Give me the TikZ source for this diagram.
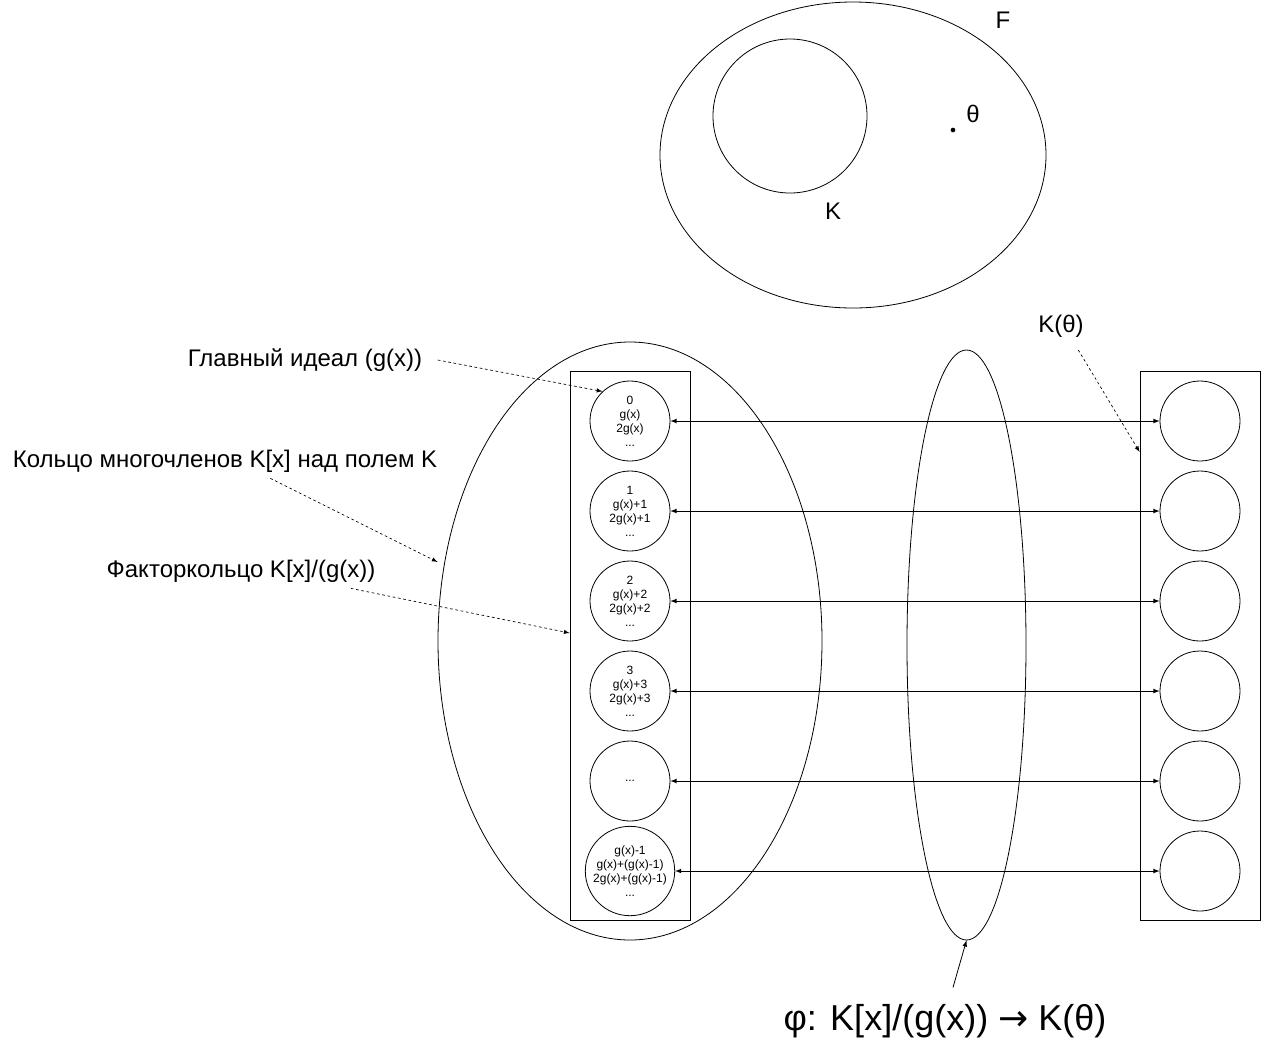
\documentclass[tikz,border=0pt]{standalone}
\usepackage{fontspec}
\setmainfont{Liberation Sans}
\newfontfamily\arrowfont{DejaVu Sans}
\usetikzlibrary{shapes.geometric}

\begin{document}
\begin{tikzpicture}
	[
		x=0.75pt, y=-0.75pt,
		>=latex,
		line width=0.6pt,
		set/.style={draw, ellipse, inner sep=0pt},
		coset/.style={draw, circle, minimum size=60pt, inner sep=0pt, align=center, font=\fontsize{9}{10.5}\selectfont},
		column/.style={draw, minimum width=90pt, minimum height=411.75pt, inner sep=0pt},
		note/.style={font=\fontsize{18}{21}\selectfont},
		pointer/.style={->, dash pattern=on 2pt off 2pt, line width=0.5pt}
	]

	\useasboundingbox (0,0) rectangle (1261,1051);

	% field F and subfield K
	\node
	[set, minimum width=289.5pt, minimum height=229.5pt]
	(fieldF) at (853,155) {};

	\node
	[draw, circle, minimum size=115.5pt, inner sep=0pt]
	(fieldK) at (790,116) {};

	\node [note] (nameF) at (1003,20) {F};
	\node [note] (nameK) at (833,211) {K};
	\node [note] (nameT) at (973,114) {θ};
	\node [circle, fill, inner sep=0pt, minimum size=3.5pt] (theta) at (953,130) {};

	% polynomial ring and factor ring
	\node
	[set, minimum width=288pt, minimum height=448.5pt]
	(ring) at (630,641) {};

	\node
	[column]
	(factor) at (630,645.5) {};

	\node [coset] (a0) at (630,421) {0\\g(x)\\2g(x)\\...};
	\node [coset] (a1) at (630,511) {1\\g(x)+1\\2g(x)+1\\...};
	\node [coset] (a2) at (630,601) {2\\g(x)+2\\2g(x)+2\\...};
	\node [coset] (a3) at (630,691) {3\\g(x)+3\\2g(x)+3\\...};
	\node [coset] (a4) at (630,781) {...};
	\node [coset] (a5) at (630,871) {g(x)-1\\g(x)+(g(x)-1)\\2g(x)+(g(x)-1)\\...};

	% map phi
	\node
	[set, minimum width=89.25pt, minimum height=442.5pt]
	(phimap) at (966.5,645) {};

	% extension K(theta)
	\node
	[column]
	(ext) at (1200,645.5) {};

	\node [coset] (b0) at (1200,421) {};
	\node [coset] (b1) at (1200,511) {};
	\node [coset] (b2) at (1200,601) {};
	\node [coset] (b3) at (1200,691) {};
	\node [coset] (b4) at (1200,781) {};
	\node [coset] (b5) at (1200,871) {};

	\path
	[<->]
	(a0) edge (b0)
	(a1) edge (b1)
	(a2) edge (b2)
	(a3) edge (b3)
	(a4) edge (b4)
	(a5) edge (b5);

	% labels
	\node [note] (ideal) at (305,360) {Главный идеал (g(x))};
	\node [note] (poly) at (225,461) {Кольцо многочленов K[x] над полем K};
	\node [note] (quot) at (241,571) {Факторкольцо K[x]/(g(x))};
	\node [note] (extname) at (1061,326) {K(θ)};
	\node [font=\fontsize{27}{31}\selectfont] (phiname) at (945,1021) {φ: K[x]/(g(x)) {\arrowfont →} K(θ)};

	\draw [pointer] ([xshift=8pt]ideal.east) -- (a0.133);
	\draw [pointer] ([xshift=34pt, yshift=-1pt]poly.south) -- (ring.west |- 0,562);
	\draw [pointer] ([xshift=-22pt, yshift=-1pt]quot.south east) -- (factor.west |- 0,633);
	\draw [pointer] ([xshift=13pt, yshift=-6pt]extname.south) -- (ext.west |- 0,452);
	\draw [->] ([xshift=6pt, yshift=9pt]phiname.north) -- (phimap.south);

\end{tikzpicture}
\end{document}
